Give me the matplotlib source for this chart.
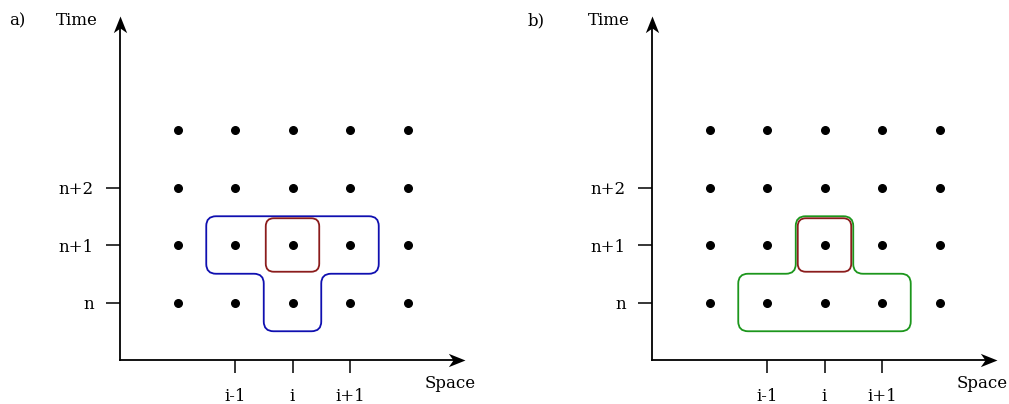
import numpy as np
import matplotlib
matplotlib.use('Agg')
import matplotlib.pyplot as plt
from matplotlib.path import Path
from matplotlib.patches import PathPatch

plt.rcParams['font.family'] = 'DejaVu Serif'
plt.rcParams['font.size'] = 12

# grid of nodes (space index, time level)
cols = [1, 2, 3, 4, 5]
rows = [1, 2, 3, 4]
xticks = [2, 3, 4]
xlabels = ['i-1', 'i', 'i+1']
yticks = [1, 2, 3]
ylabels = ['n', 'n+1', 'n+2']

# stencils: (lower row, lower col span, upper col span)
stencil_a = (1, (3, 3), (2, 4))   # T: three nodes at n+1, one at n
stencil_b = (1, (2, 4), (3, 3))   # inverted T: three nodes at n, one at n+1
target = (3, 2)                   # node (i, n+1)

W, H = 1009, 404
unit = 57.5

# stealth-style arrow heads, tip at the origin
head_right = Path([(0, 0), (-1, 0.4), (-0.72, 0), (-1, -0.4), (0, 0)],
                  [Path.MOVETO, Path.LINETO, Path.LINETO, Path.LINETO, Path.CLOSEPOLY])
head_up = Path([(0, 0), (0.4, -1), (0, -0.72), (-0.4, -1), (0, 0)],
               [Path.MOVETO, Path.LINETO, Path.LINETO, Path.LINETO, Path.CLOSEPOLY])


def rounded_path(verts, r):
    # polygon with every corner replaced by a quadratic curve
    verts = np.asarray(verts, float)
    n = len(verts)
    pts, codes = [], []
    for k in range(n):
        p0, p1, p2 = verts[k - 1], verts[k], verts[(k + 1) % n]
        d_in = (p1 - p0) / np.linalg.norm(p1 - p0)
        d_out = (p2 - p1) / np.linalg.norm(p2 - p1)
        a = p1 - d_in * r
        b = p1 + d_out * r
        pts += [a, p1, b]
        codes += [Path.MOVETO if k == 0 else Path.LINETO, Path.CURVE3, Path.CURVE3]
    pts.append(pts[0])
    codes.append(Path.CLOSEPOLY)
    return Path(pts, codes)


def stencil_outline(st, h=0.5):
    r0, (a0, b0), (a1, b1) = st
    r1 = r0 + 1
    return [(a0 - h, r0 - h), (b0 + h, r0 - h), (b0 + h, r0 + h),
            (b1 + h, r0 + h), (b1 + h, r1 + h), (a1 - h, r1 + h),
            (a1 - h, r0 + h), (a0 - h, r0 + h)]


def panel(ox, st, color, tag, tag_x):
    ax = fig.add_axes([ox / W, (H - 360) / H, 6.2 * unit / W, 6.2 * unit / H])
    ax.set_xlim(0, 6.2)
    ax.set_ylim(0, 6.2)
    for s in ax.spines.values():
        s.set_visible(False)
    ax.patch.set_visible(False)

    # axes with arrow heads
    ax.plot([0, 5.85], [0, 0], color='black', lw=1.3, clip_on=False)
    ax.plot([0, 0], [0, 5.85], color='black', lw=1.3, clip_on=False)
    ax.plot([6.0], [0], marker=head_right, ms=24, color='black', mew=0, clip_on=False)
    ax.plot([0], [5.98], marker=head_up, ms=24, color='black', mew=0, clip_on=False)

    ax.set_xticks(xticks, xlabels)
    ax.set_yticks(yticks, ylabels)
    ax.tick_params(axis='x', length=9, width=1.1, pad=11)
    ax.tick_params(axis='y', length=10, width=1.1, pad=9)

    X, Y = np.meshgrid(cols, rows)
    ax.scatter(X.ravel(), Y.ravel(), s=30, color='black', zorder=3)

    ax.add_patch(PathPatch(rounded_path(stencil_outline(st), 0.17),
                           fill=False, edgecolor=color, lw=1.3))
    tx, ty = target
    hw = 0.465
    sq = [(tx - hw, ty - hw), (tx + hw, ty - hw), (tx + hw, ty + hw), (tx - hw, ty + hw)]
    ax.add_patch(PathPatch(rounded_path(sq, 0.14), fill=False,
                           edgecolor='#8b1c1c', lw=1.3))

    ax.text(-0.75, 5.9, 'Time', ha='center', va='center')
    ax.text(5.74, -0.4, 'Space', ha='center', va='center')
    ax.text(tag_x, 5.9, tag, ha='center', va='center')
    return ax


fig = plt.figure(figsize=(W / 100, H / 100), dpi=100)
panel(120, stencil_a, '#0f0fb0', 'a)', -1.79)
panel(652, stencil_b, '#1c961c', 'b)', -2.02)

plt.savefig('out.png', dpi=100)
